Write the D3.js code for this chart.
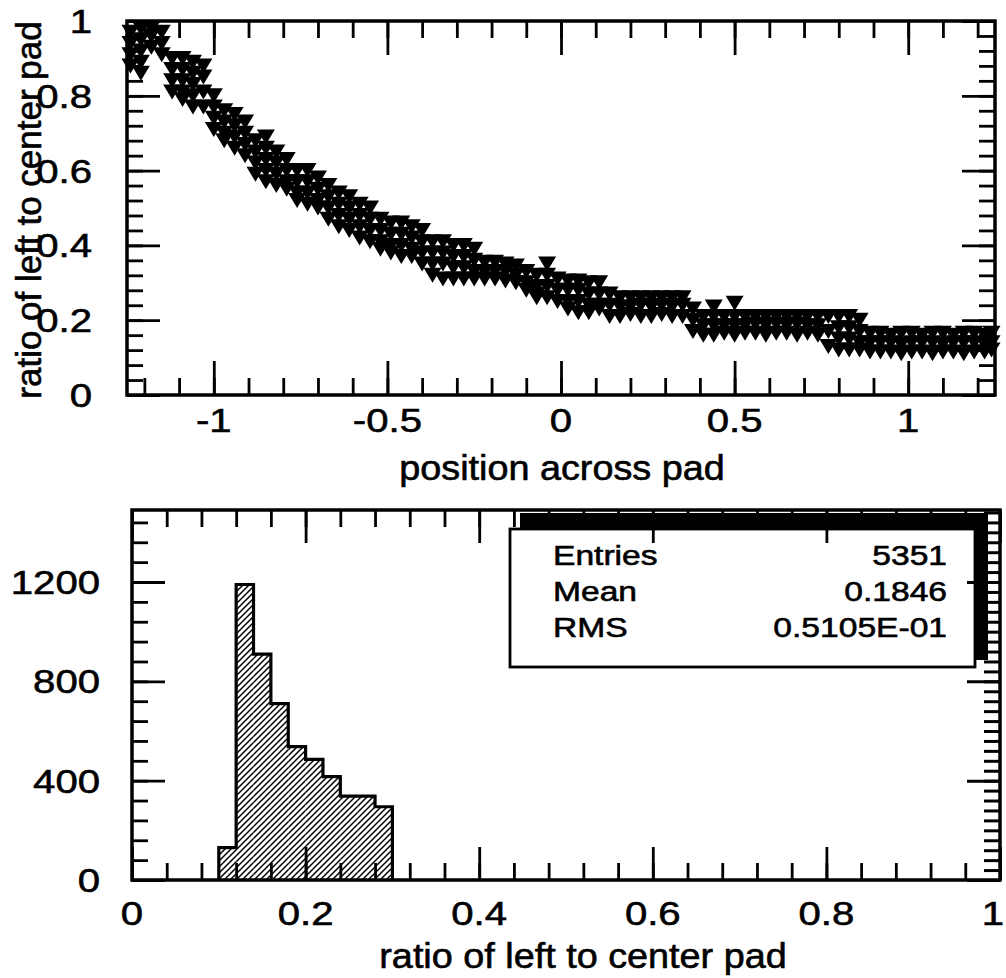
<!DOCTYPE html>
<html>
<head>
<meta charset="utf-8">
<script src="https://cdn.jsdelivr.net/npm/d3@7"></script>
<style>
  body { margin: 0; background: #fff; }
  svg { display: block; }
  text { font-family: "Liberation Sans", Arial, Helvetica, sans-serif; fill: #000; stroke: #000; stroke-width: 0.6px; }
</style>
</head>
<body>
<script>
// ---- upper panel: ratio vs position (columns of markers)
var scatterCols = [
  [-1.24, [0.97, 0.94, 0.91, 0.88]],
  [-1.21, [0.98, 0.95, 0.92, 0.89, 0.86]],
  [-1.18, [0.98, 0.96, 0.93]],
  [-1.15, [0.97, 0.94, 0.91]],
  [-1.12, [0.90, 0.87, 0.84, 0.81]],
  [-1.09, [0.90, 0.87, 0.84, 0.81, 0.79]],
  [-1.06, [0.89, 0.86, 0.83, 0.80, 0.77]],
  [-1.03, [0.88, 0.85, 0.81, 0.77]],
  [-1.00, [0.80, 0.77, 0.74, 0.71]],
  [-0.97, [0.76, 0.73, 0.70, 0.68]],
  [-0.94, [0.75, 0.72, 0.69, 0.66]],
  [-0.91, [0.73, 0.70, 0.67, 0.64]],
  [-0.88, [0.68, 0.65, 0.62, 0.59]],
  [-0.85, [0.69, 0.66, 0.63, 0.60, 0.57]],
  [-0.82, [0.65, 0.62, 0.59, 0.56]],
  [-0.79, [0.63, 0.60, 0.57, 0.55]],
  [-0.76, [0.60, 0.57, 0.54, 0.52]],
  [-0.73, [0.60, 0.57, 0.54, 0.51]],
  [-0.70, [0.58, 0.55, 0.52, 0.50]],
  [-0.67, [0.56, 0.53, 0.50, 0.47]],
  [-0.64, [0.54, 0.51, 0.48, 0.45]],
  [-0.61, [0.53, 0.50, 0.47, 0.44]],
  [-0.58, [0.51, 0.48, 0.45, 0.42]],
  [-0.55, [0.50, 0.47, 0.44, 0.41]],
  [-0.52, [0.47, 0.44, 0.41, 0.39]],
  [-0.49, [0.46, 0.43, 0.40, 0.38]],
  [-0.46, [0.46, 0.43, 0.40, 0.37]],
  [-0.43, [0.45, 0.42, 0.39, 0.37]],
  [-0.40, [0.44, 0.41, 0.38, 0.35]],
  [-0.37, [0.41, 0.38, 0.35, 0.32]],
  [-0.34, [0.41, 0.38, 0.35, 0.31]],
  [-0.31, [0.40, 0.37, 0.34, 0.31]],
  [-0.28, [0.40, 0.37, 0.34, 0.31]],
  [-0.25, [0.39, 0.36, 0.33, 0.31]],
  [-0.22, [0.355, 0.33, 0.31]],
  [-0.19, [0.355, 0.33, 0.31]],
  [-0.16, [0.35, 0.33, 0.305]],
  [-0.13, [0.345, 0.32, 0.30]],
  [-0.10, [0.33, 0.30, 0.28]],
  [-0.07, [0.32, 0.29, 0.27, 0.26]],
  [-0.04, [0.35, 0.32, 0.29, 0.26]],
  [-0.01, [0.31, 0.28, 0.25]],
  [0.02, [0.305, 0.28, 0.25, 0.23]],
  [0.05, [0.305, 0.28, 0.25, 0.22]],
  [0.08, [0.30, 0.27, 0.24, 0.22]],
  [0.11, [0.30, 0.27, 0.24, 0.23]],
  [0.14, [0.27, 0.24, 0.21]],
  [0.17, [0.26, 0.235, 0.21]],
  [0.20, [0.26, 0.235, 0.215]],
  [0.23, [0.26, 0.24, 0.21]],
  [0.26, [0.26, 0.235, 0.21]],
  [0.29, [0.26, 0.24, 0.215]],
  [0.32, [0.26, 0.235, 0.21]],
  [0.35, [0.26, 0.24, 0.21]],
  [0.38, [0.23, 0.20, 0.17]],
  [0.41, [0.21, 0.185, 0.16]],
  [0.44, [0.235, 0.21, 0.185, 0.16]],
  [0.47, [0.21, 0.185, 0.165]],
  [0.50, [0.245, 0.21, 0.185, 0.16]],
  [0.53, [0.21, 0.185, 0.165]],
  [0.56, [0.21, 0.19, 0.165]],
  [0.59, [0.21, 0.185, 0.16]],
  [0.62, [0.21, 0.19, 0.165]],
  [0.65, [0.21, 0.185, 0.165]],
  [0.68, [0.21, 0.19, 0.16]],
  [0.71, [0.21, 0.185, 0.165]],
  [0.74, [0.21, 0.185, 0.16]],
  [0.77, [0.21, 0.17, 0.13]],
  [0.80, [0.21, 0.18, 0.15, 0.12]],
  [0.83, [0.21, 0.18, 0.15, 0.12]],
  [0.86, [0.20, 0.17, 0.14, 0.12]],
  [0.89, [0.165, 0.14, 0.115]],
  [0.92, [0.165, 0.14, 0.115]],
  [0.95, [0.16, 0.14, 0.115]],
  [0.98, [0.165, 0.135, 0.11]],
  [1.01, [0.165, 0.14, 0.115]],
  [1.04, [0.16, 0.14, 0.115]],
  [1.07, [0.165, 0.14, 0.11]],
  [1.10, [0.165, 0.135, 0.115]],
  [1.13, [0.16, 0.14, 0.115]],
  [1.16, [0.165, 0.14, 0.11]],
  [1.19, [0.165, 0.14, 0.115]],
  [1.22, [0.16, 0.135, 0.115]],
  [1.24, [0.165, 0.14, 0.12]]
];
var topXTicks  = [-1, -0.5, 0, 0.5, 1];
var topXLabels = ["-1", "-0.5", "0", "0.5", "1"];
var topYTicks  = [0, 0.2, 0.4, 0.6, 0.8, 1];
var topYLabels = ["0", "0.2", "0.4", "0.6", "0.8", "1"];

// ---- lower panel: histogram of the ratio
var binEdges  = [0.10, 0.12, 0.14, 0.16, 0.18, 0.20, 0.22, 0.24, 0.26, 0.28, 0.30];
var binCounts = [130, 1190, 910, 710, 537, 486, 416, 338, 338, 295];
var botXTicks  = [0, 0.2, 0.4, 0.6, 0.8, 1];
var botXLabels = ["0", "0.2", "0.4", "0.6", "0.8", "1"];
var botYTicks  = [0, 400, 800, 1200];
var botYLabels = ["0", "400", "800", "1200"];
var statNames  = ["Entries", "Mean", "RMS"];
var statValues = ["5351", "0.1846", "0.5105E-01"];

var width = 1006, height = 978;
var svg = d3.select("body").append("svg")
    .attr("width", width)
    .attr("height", height);

var defs = svg.append("defs");
defs.append("pattern")
    .attr("id", "hatch")
    .attr("patternUnits", "userSpaceOnUse")
    .attr("width", 6).attr("height", 6)
  .append("path")
    .attr("d", "M0,6 L6,0 M-1,1 L1,-1 M5,7 L7,5")
    .attr("stroke", "#000")
    .attr("stroke-width", 1.5);

// inward ticks on one side of a frame
function ticks(axisFn, scale, values, size, shift, width) {
  svg.append("g")
      .attr("transform", shift)
      .call(axisFn(scale).tickValues(values).tickSize(-size).tickSizeOuter(0).tickFormat(""))
      .call(function(g) { g.select(".domain").remove(); })
      .call(function(g) { g.selectAll("line").attr("stroke-width", width || 2.8); });
}

function label(txt, x, y, anchor, size, sx) {
  svg.append("text")
      .attr("transform", "translate(" + x + "," + y + ") scale(" + sx + ",1)")
      .attr("text-anchor", anchor)
      .attr("font-size", size)
      .text(txt);
}

// ================= upper panel =================
var xT = d3.scaleLinear().domain([-1.25, 1.25]).range([127, 995]);
var yT = d3.scaleLinear().domain([0, 1]).range([395, 21]);

var pts = [];
scatterCols.forEach(function(c) {
  c[1].forEach(function(r) { pts.push([c[0], r]); });
});

svg.append("g").selectAll("path")
  .data(pts)
  .join("path")
    .attr("transform", function(d) { return "translate(" + xT(d[0]) + "," + yT(d[1]) + ")"; })
    .attr("d", "M-9,-7.5L9,-7.5L0,7.5Z")
    .attr("fill", "#000");

var minorXT = d3.range(-12, 13).map(function(i) { return i / 10; });
var minorYT = d3.range(0, 26).map(function(i) { return i * 0.04; });
ticks(d3.axisBottom, xT, minorXT, 17, "translate(0,395)");
ticks(d3.axisBottom, xT, topXTicks, 34, "translate(0,395)");
ticks(d3.axisTop, xT, minorXT, 17, "translate(0,21)");
ticks(d3.axisTop, xT, topXTicks, 34, "translate(0,21)");
ticks(d3.axisLeft, yT, minorYT, 16, "translate(127,0)");
ticks(d3.axisLeft, yT, topYTicks, 33, "translate(127,0)");
ticks(d3.axisRight, yT, minorYT, 16, "translate(995,0)");
ticks(d3.axisRight, yT, topYTicks, 33, "translate(995,0)");

svg.append("rect")
    .attr("x", 127).attr("y", 21).attr("width", 995 - 127).attr("height", 395 - 21)
    .attr("fill", "none").attr("stroke", "#000").attr("stroke-width", 3.5);

topXTicks.forEach(function(t, i) { label(topXLabels[i], xT(t), 432, "middle", 34, 1.18); });
topYTicks.forEach(function(t, i) { label(topYLabels[i], 92, yT(t) + 12, "end", 34, 1.18); });
label("position across pad", 562, 480, "middle", 35, 1.08);

svg.append("text")
    .attr("transform", "translate(41,210) rotate(-90)")
    .attr("text-anchor", "middle")
    .attr("font-size", 35)
    .text("ratio of left to center pad");

// ================= lower panel =================
var xB = d3.scaleLinear().domain([0, 1]).range([132, 1000]);
var yB = d3.scaleLinear().domain([0, 1490]).range([880, 510]);

var bins = binCounts.map(function(c, i) { return { x0: binEdges[i], x1: binEdges[i + 1], n: c }; });

svg.append("g").selectAll("rect")
  .data(bins)
  .join("rect")
    .attr("x", function(d) { return xB(d.x0); })
    .attr("y", function(d) { return yB(d.n); })
    .attr("width", function(d) { return xB(d.x1) - xB(d.x0); })
    .attr("height", function(d) { return yB(0) - yB(d.n); })
    .attr("fill", "url(#hatch)");

var outline = d3.path();
outline.moveTo(xB(bins[0].x0), yB(0));
bins.forEach(function(d) {
  outline.lineTo(xB(d.x0), yB(d.n));
  outline.lineTo(xB(d.x1), yB(d.n));
});
outline.lineTo(xB(bins[bins.length - 1].x1), yB(0));
svg.append("path")
    .attr("d", outline.toString())
    .attr("fill", "none")
    .attr("stroke", "#000")
    .attr("stroke-width", 3.2);

// statistics box with its shadow
svg.append("rect")
    .attr("x", 520).attr("y", 513).attr("width", 468).attr("height", 147)
    .attr("fill", "#000");
svg.append("rect")
    .attr("x", 510).attr("y", 529).attr("width", 465).attr("height", 138)
    .attr("fill", "#fff").attr("stroke", "#000").attr("stroke-width", 2.8);

var statBase = [565, 601, 637];
statNames.forEach(function(s, i) { label(s, 553, statBase[i], "start", 28, 1.2); });
statValues.forEach(function(s, i) { label(s, 947, statBase[i], "end", 28, 1.2); });

var minorXB = d3.range(0, 26).map(function(i) { return i * 0.04; });
var minorYL = d3.range(0, 19).map(function(i) { return i * 80; });
var minorYR = d3.range(0, 38).map(function(i) { return i * 40; });
ticks(d3.axisBottom, xB, minorXB, 17, "translate(0,880)");
ticks(d3.axisBottom, xB, botXTicks, 33, "translate(0,880)");
ticks(d3.axisTop, xB, minorXB, 17, "translate(0,510)");
ticks(d3.axisTop, xB, botXTicks, 33, "translate(0,510)");
ticks(d3.axisLeft, yB, minorYL, 16, "translate(132,0)");
ticks(d3.axisLeft, yB, botYTicks, 33, "translate(132,0)");
ticks(d3.axisRight, yB, minorYR, 16, "translate(1000,0)", 3);
ticks(d3.axisRight, yB, botYTicks, 33, "translate(1000,0)", 3);

svg.append("rect")
    .attr("x", 132).attr("y", 510).attr("width", 1000 - 132).attr("height", 880 - 510)
    .attr("fill", "none").attr("stroke", "#000").attr("stroke-width", 3.5);

// the last label sits at the window's edge, nudged in so it stays whole
botXTicks.forEach(function(t, i) {
  label(botXLabels[i], Math.min(xB(t), 993), 925, "middle", 34, 1.18);
});
botYTicks.forEach(function(t, i) { label(botYLabels[i], 100, yB(t) + 12, "end", 34, 1.18); });
label("ratio of left to center pad", 583, 968, "middle", 35, 1.08);
</script>
</body>
</html>
